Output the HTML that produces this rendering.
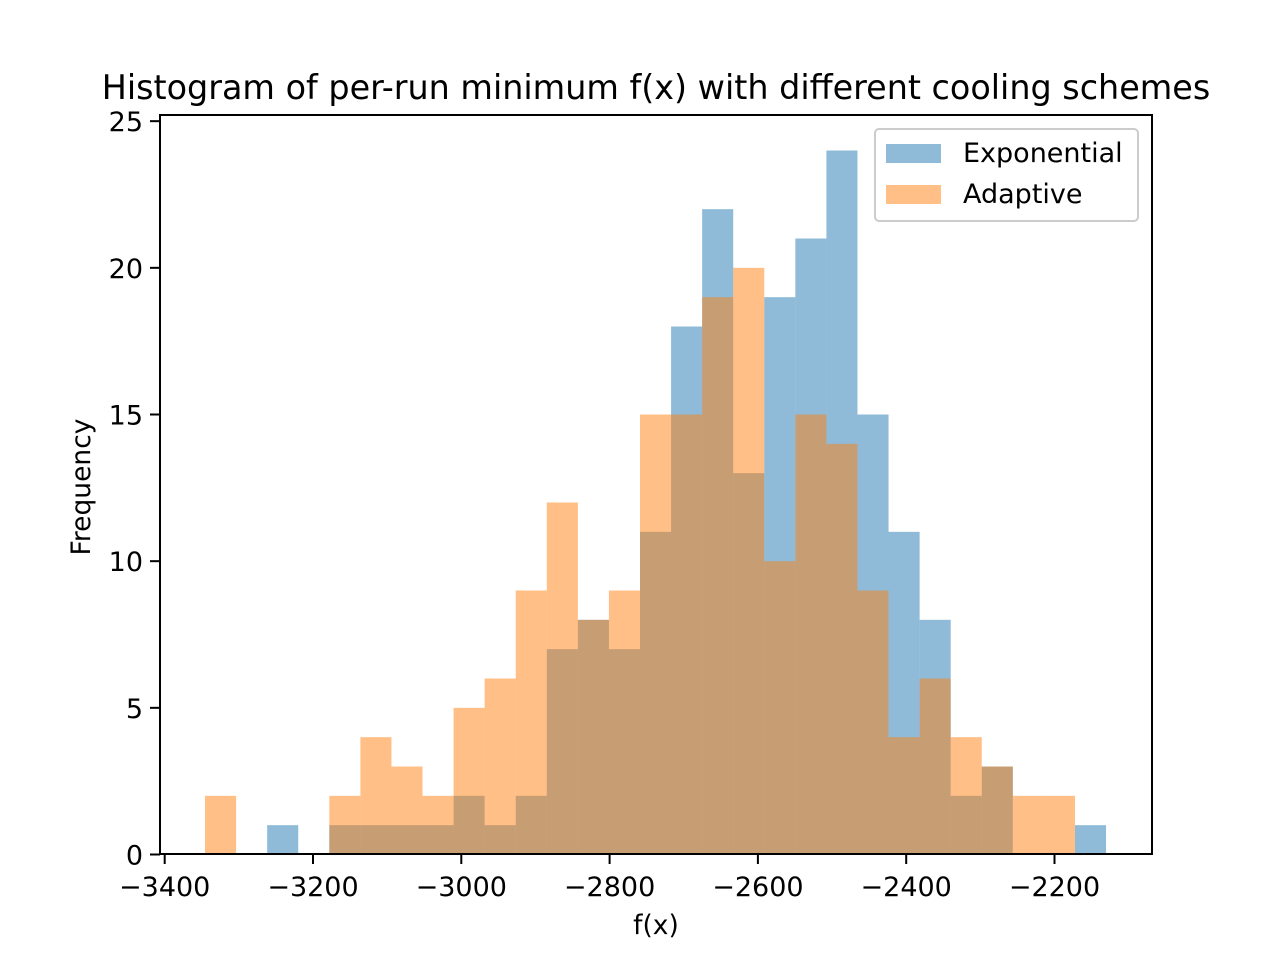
<!DOCTYPE html>
<html><head><meta charset="utf-8"><style>
html,body{margin:0;padding:0;background:#fff;}
svg text{font-family:"DejaVu Sans","Liberation Sans",sans-serif;fill:#000;}
</style></head><body>
<svg id="chart" width="1280" height="960" viewBox="0 0 1280 960" xmlns="http://www.w3.org/2000/svg">
<g id="bars"></g>
<g id="axes"></g>
<text x="656" y="99" text-anchor="middle" font-size="33.4">Histogram of per-run minimum f(x) with different cooling schemes</text>
<text x="656" y="934" text-anchor="middle" font-size="26.5">f(x)</text>
<text transform="translate(90,487) rotate(-90)" text-anchor="middle" font-size="26.5">Frequency</text>
<g>
<rect x="875" y="129" width="263" height="92" rx="4" fill="#fff" fill-opacity="0.8" stroke="#ccc" stroke-width="2"/>
<rect x="886" y="144" width="55" height="19" fill="#1f77b4" fill-opacity="0.5"/>
<text x="963" y="162" font-size="27">Exponential</text>
<rect x="886" y="185" width="55" height="19" fill="#ff7f0e" fill-opacity="0.5"/>
<text x="963" y="203" font-size="27">Adaptive</text>
</g>
</svg>
<script>
const binStart = -3345.6;
const binWidth = 41.9;
const exponentialCounts = [0,0,1,0,1,1,1,1,2,1,2,7,8,7,11,18,22,13,19,21,24,15,11,8,2,3,0,0,1];
const adaptiveCounts = [2,0,0,0,2,4,3,2,5,6,9,12,8,9,15,15,19,20,10,15,14,9,4,6,4,3,2,2,0];
const xTicks = [-3400,-3200,-3000,-2800,-2600,-2400,-2200];
const yTicks = [0,5,10,15,20,25];

const NS = "http://www.w3.org/2000/svg";
const PL = 160, PR = 1152, PT = 115, PB = 854;
function xs(v){ return 164.7 + (v + 3400) * 0.7415; }
function ys(v){ return 854.5 - v * (440/15); }

const bars = document.getElementById('bars');
function drawSeries(counts, color, name){
  counts.forEach((c, i) => {
    if (c <= 0) return;
    const x0 = xs(binStart + i*binWidth), x1 = xs(binStart + (i+1)*binWidth);
    const r = document.createElementNS(NS, 'rect');
    r.setAttribute('x', x0); r.setAttribute('width', x1 - x0);
    r.setAttribute('y', ys(c)); r.setAttribute('height', ys(0) - ys(c));
    r.setAttribute('fill', color); r.setAttribute('fill-opacity', '0.5');
    
    
    bars.appendChild(r);
  });
}
drawSeries(exponentialCounts, '#1f77b4', 'exponential');
drawSeries(adaptiveCounts, '#ff7f0e', 'adaptive');

const axes = document.getElementById('axes');
const frame = document.createElementNS(NS, 'rect');
frame.setAttribute('x', PL); frame.setAttribute('y', PT);
frame.setAttribute('width', PR - PL); frame.setAttribute('height', PB - PT);
frame.setAttribute('fill', 'none'); frame.setAttribute('stroke', '#000'); frame.setAttribute('stroke-width', '2');


axes.appendChild(frame);

xTicks.forEach(t => {
  const x = xs(t);
  const l = document.createElementNS(NS, 'line');
  l.setAttribute('x1', x); l.setAttribute('x2', x); l.setAttribute('y1', PB); l.setAttribute('y2', PB + 10);
  l.setAttribute('stroke', '#000'); l.setAttribute('stroke-width', '2');
  
  
  axes.appendChild(l);
  const tx = document.createElementNS(NS, 'text');
  tx.setAttribute('x', x); tx.setAttribute('y', PB + 42); tx.setAttribute('text-anchor', 'middle'); tx.setAttribute('font-size', '27');
  tx.textContent = '\u2212' + Math.abs(t);
  
  
  axes.appendChild(tx);
});
yTicks.forEach(t => {
  const y = ys(t);
  const l = document.createElementNS(NS, 'line');
  l.setAttribute('x1', PL - 10); l.setAttribute('x2', PL); l.setAttribute('y1', y); l.setAttribute('y2', y);
  l.setAttribute('stroke', '#000'); l.setAttribute('stroke-width', '2');
  
  
  axes.appendChild(l);
  const tx = document.createElementNS(NS, 'text');
  tx.setAttribute('x', PL - 17); tx.setAttribute('y', y + 10); tx.setAttribute('text-anchor', 'end'); tx.setAttribute('font-size', '27');
  tx.textContent = String(t);
  
  
  axes.appendChild(tx);
});
</script>
</body></html>
